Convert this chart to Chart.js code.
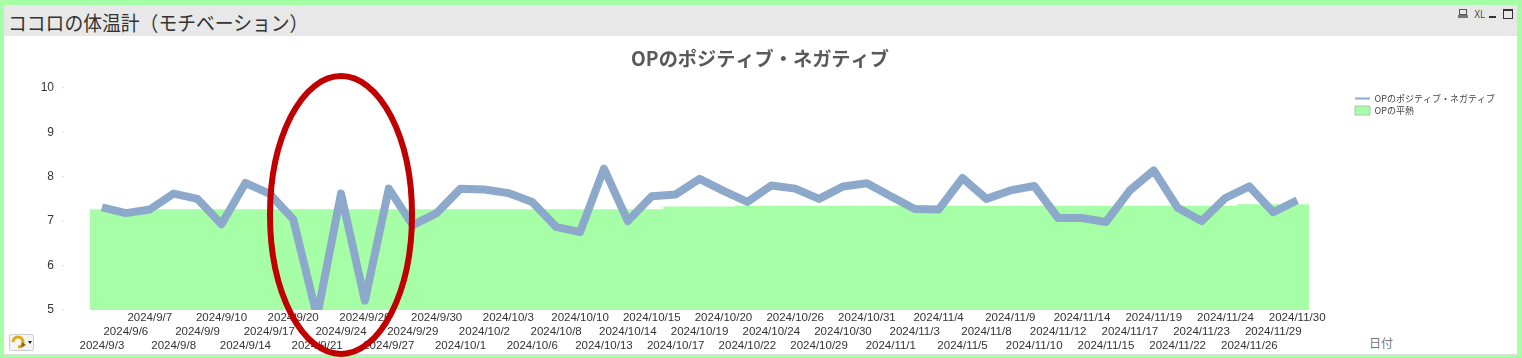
<!DOCTYPE html>
<html>
<head>
<meta charset="utf-8">
<script src="https://cdn.jsdelivr.net/npm/chart.js@4"></script>
<style>
html, body { margin: 0; padding: 0; width: 1522px; height: 358px; overflow: hidden; background: #fff; }
#frame { position: absolute; left: 0; top: 0; width: 1522px; height: 358px; box-sizing: border-box; background: #a6ffa6; }
#inner { position: absolute; left: 4px; top: 5px; width: 1513px; height: 351px; background: #fff; border-bottom: 2px solid #ddd; box-sizing: border-box; }
#caption { position: absolute; left: 4px; top: 5px; width: 1513px; height: 31px; background: #e8e8e8; color: #333; font: 20px/31px "Noto Sans CJK JP"; white-space: nowrap; }
#caption span { position: absolute; left: 4px; top: 2px; transform: scaleX(.94); transform-origin: left center; }
#xl { position: absolute; left: 1473px; top: 8px; font: 11px/12px "Liberation Sans"; color: #444; transform: scaleX(.8); }
#axisname { position: absolute; left: 1369px; top: 335px; font: 12px/16px "Noto Sans CJK JP"; color: #777; }
canvas { position: absolute; left: 0; top: 0; }
svg { position: absolute; }
</style>
</head>
<body>
<div id="frame"></div>
<div id="inner"></div>
<div id="caption"><span>ココロの体温計（モチベーション）</span></div>
<svg style="left:1457px;top:7px" width="60" height="14">
  <rect x="2.5" y="2.5" width="7" height="5" fill="none" stroke="#555"/>
  <rect x="1" y="8" width="10" height="3" fill="#777"/>
  <rect x="32" y="9" width="7" height="2" fill="#333"/>
  <rect x="46.5" y="2.5" width="9" height="9" fill="none" stroke="#333"/>
  <rect x="46" y="2" width="10" height="2" fill="#333"/>
</svg>
<div id="xl">XL</div>
<svg style="left:9px;top:334px" width="25" height="17">
  <rect x="0.5" y="0.5" width="24" height="16" rx="2" fill="#f4f4f4" stroke="#ccc"/>
  <path d="M4 8 a5 5 0 1 1 5 5" fill="none" stroke="#e0a810" stroke-width="3"/>
  <path d="M13 8 l4 3 -5 3z" fill="#8a6a10"/>
  <path d="M19 7 h4 l-2 3z" fill="#222"/>
</svg>
<div id="axisname">日付</div>
<canvas id="chart" width="1522" height="358"></canvas>
<script>
const dates = ['2024/9/3','2024/9/6','2024/9/7','2024/9/8','2024/9/9','2024/9/10','2024/9/14','2024/9/17','2024/9/20','2024/9/21',
  '2024/9/24','2024/9/26','2024/9/27','2024/9/29','2024/9/30','2024/10/1','2024/10/2','2024/10/3','2024/10/6','2024/10/8',
  '2024/10/10','2024/10/13','2024/10/14','2024/10/15','2024/10/17','2024/10/19','2024/10/20','2024/10/22','2024/10/24','2024/10/26',
  '2024/10/29','2024/10/30','2024/10/31','2024/11/1','2024/11/3','2024/11/4','2024/11/5','2024/11/8','2024/11/9','2024/11/10',
  '2024/11/12','2024/11/14','2024/11/15','2024/11/17','2024/11/19','2024/11/22','2024/11/23','2024/11/24','2024/11/26','2024/11/29','2024/11/30'];
const opValues = [7.31,7.18,7.26,7.62,7.50,6.93,7.86,7.62,7.04,4.85,
  7.62,5.21,7.73,6.91,7.18,7.73,7.71,7.63,7.43,6.87,
  6.75,8.18,7.00,7.56,7.60,7.95,7.68,7.43,7.80,7.73,
  7.50,7.78,7.85,7.56,7.27,7.26,7.97,7.50,7.69,7.79,
  7.07,7.07,6.98,7.69,8.14,7.30,7.00,7.52,7.78,7.20,7.47];
const normalTemp = [7.26,7.26,7.26,7.26,7.26,7.26,7.26,7.26,7.26,7.26,
  7.26,7.26,7.26,7.26,7.26,7.26,7.26,7.26,7.26,7.26,
  7.26,7.26,7.26,7.26,7.32,7.32,7.32,7.34,7.34,7.34,
  7.34,7.34,7.34,7.34,7.34,7.34,7.34,7.34,7.34,7.34,
  7.34,7.34,7.34,7.34,7.34,7.34,7.34,7.34,7.37,7.37,7.37];

const labelFont = '"Liberation Sans", sans-serif';

// tiny tick dots and the red hand-drawn circle on top
const overlay = {
  id: 'overlay',
  afterLayout(chart) {
    // legend sits apart from the plot, title is centred on the whole panel
    const lg = chart.legend, w = lg.right - lg.left;
    lg.left = 1352; lg.right = lg.left + w;
    lg.top = 91;
    chart.titleBlock.left = 0;
    chart.titleBlock.right = 1520;
  },
  afterDraw(chart) {
    const c = chart.ctx, y = chart.scales.y;
    c.save();
    c.fillStyle = '#ddd';
    y.ticks.forEach((t, i) => c.fillRect(62, y.getPixelForTick(i) - 0.5, 2, 1));
    c.strokeStyle = '#c00000';
    c.lineWidth = 6;
    c.beginPath();
    c.ellipse(341, 215, 71, 139, 0, 0, Math.PI * 2);
    c.stroke();
    c.restore();
  }
};

new Chart(document.getElementById('chart').getContext('2d'), {
  plugins: [overlay],
  data: {
    labels: dates,
    datasets: [
      { type: 'line', label: 'OPのポジティブ・ネガティブ', data: opValues, borderColor: '#8ca8cb', backgroundColor: '#8ca8cb',
        borderWidth: 8, pointRadius: 0, tension: 0, borderJoinStyle: 'round', order: 1, pointStyle: 'line' },
      { type: 'bar', label: 'OPの平熱', data: normalTemp, backgroundColor: '#a6ffa6', borderWidth: 0,
        barPercentage: 1, categoryPercentage: 1, order: 2, pointStyle: 'rect' }
    ]
  },
  options: {
    responsive: false,
    animation: false,
    layout: { padding: { top: 42, right: 60, bottom: 0, left: 0 } },
    scales: {
      x: {
        offset: true,
        grid: { display: false },
        border: { display: false },
        afterFit(s) { s.height = 48; },
        ticks: {
          autoSkip: false, maxRotation: 0, minRotation: 0, padding: -7,
          color: '#333', font: { family: labelFont, size: 11.5, lineHeight: '14px' },
          callback(v, i) {
            const row = [['', '', dates[i]], ['', dates[i], ''], [dates[i], '', '']];
            return row[i % 3];
          }
        }
      },
      y: {
        min: 5, max: 10,
        grid: { display: false, drawTicks: false },
        border: { display: false },
        afterFit(s) { s.width = 90; },
        ticks: { stepSize: 1, padding: 36, color: '#333', font: { family: labelFont, size: 12 } }
      }
    },
    plugins: {
      tooltip: { enabled: false },
      title: {
        display: true,
        text: 'OPのポジティブ・ネガティブ',
        color: '#595959',
        font: { family: '"Noto Sans CJK JP"', size: 19.2, weight: 'bold', lineHeight: 1.55 },
        padding: { top: 2, bottom: 14 }
      },
      legend: {
        position: 'right',
        align: 'start',
        labels: {
          usePointStyle: true,
          pointStyleWidth: 15,
          boxHeight: 14,
          padding: 3,
          color: '#444',
          font: { family: '"Noto Sans CJK JP"', size: 9 },
          generateLabels(chart) {
            return chart.data.datasets.map((d, i) => ({
              text: d.label, datasetIndex: i,
              fillStyle: d.backgroundColor,
              strokeStyle: i === 0 ? d.borderColor : '#bbb',
              lineWidth: i === 0 ? 2 : 1,
              pointStyle: d.pointStyle,
              fontColor: '#444'
            }));
          }
        }
      }
    }
  }
});
</script>
</body>
</html>
